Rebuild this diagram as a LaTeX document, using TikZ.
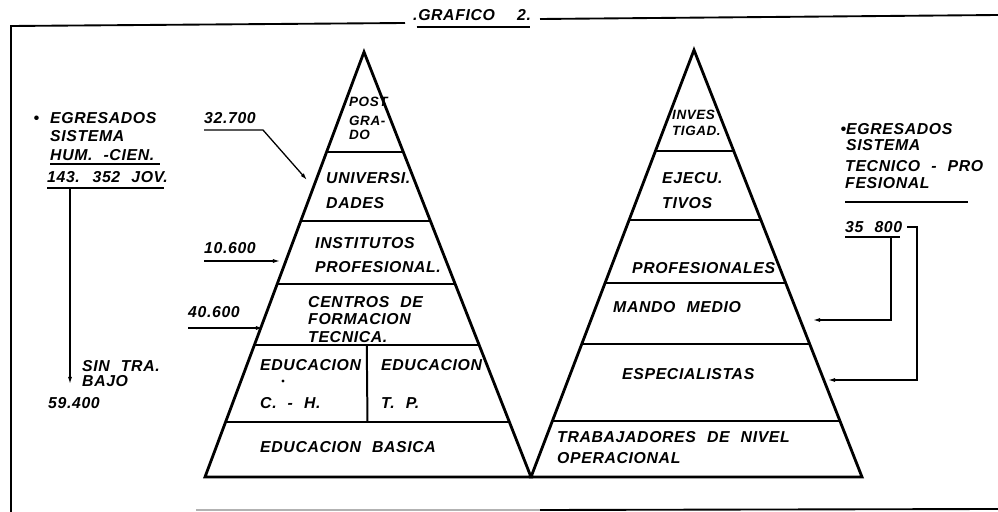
\documentclass[tikz,border=0pt]{standalone}
\usepackage{fontspec}
\setmainfont{Liberation Sans}[LetterSpace=4,WordSpace=2.2]
\usetikzlibrary{calc,arrows.meta}
\tikzset{
	frame/.style={line width=1.6pt},
	pyr/.style={line width=2.4pt},
	tier/.style={line width=1.7pt},
	con/.style={line width=1.1pt},
	ul/.style={line width=1.5pt},
	tip/.style={-{Latex[length=6pt,width=3.5pt]}},
	txt/.style={anchor=west, inner sep=0pt, align=left, font=\fontsize{13.5}{#1}\selectfont\bfseries\itshape},
	txt/.default=15,
	sml/.style={anchor=west, inner sep=0pt, align=left, font=\fontsize{11.5}{#1}\selectfont\bfseries\itshape},
	sml/.default=12
}
\newcommand{\Piramide}[4]{
	\coordinate (#1T) at #2;
	\coordinate (#1L) at #3;
	\coordinate (#1R) at #4;
	\draw[pyr] (#1L) -- (#1T) -- (#1R) -- cycle;
	\foreach \t [count=\i] in {0.236,0.397,0.546,0.689,0.870}{
		\draw[tier] ($(#1T)!\t!(#1L)$) coordinate (#1l\i) -- ($(#1T)!\t!(#1R)$) coordinate (#1r\i);
	}
}

\begin{document}
\begin{tikzpicture}[x=0.03cm,y=-0.03cm]
	\useasboundingbox (0,0) rectangle (998,512);
	\draw[frame] (11,512) -- (11,26) -- (405,23);
	\draw[frame] (540,19) -- (998,15);
	\draw[frame,black!30] (196,510) -- (540,510);
	\draw[frame] (540,510) -- (998,509);
	\node[txt] (titulo) at (413,15) {.GRAFICO\ \ 2.};
	\coordinate (u0) at (530,27);
	\draw[ul] ([xshift=3pt]titulo.west |- u0) -- (u0);

	\Piramide{A}{(364,52)}{(205,477)}{(531,477)}
	\Piramide{B}{(694,50)}{(531,477)}{(862,477)}
	\draw[tier] ($(Al4)!0.5!(Ar4)$) -- ($(Al5)!0.5!(Ar5)$);

	\node[sml=11.5] (post) at (349,118) {POST\\[5pt]GRA-\\DO};
	\node[txt=21.3] (univ) at (326,190.5) {UNIVERSI.\\DADES};
	\node[txt=20.5] (inst) at (315,255) {INSTITUTOS\\PROFESIONAL.};
	\node[txt=15] (cent) at (308,319.5) {CENTROS\ DE\\FORMACION\\TECNICA.};
	\node[txt=32.4] (eduCH) at (260,384) {EDUCACION\\C. - H.};
	\fill (283,381) circle (1.6);
	\node[txt=32.4] (eduTP) at (381,384) {EDUCACION\\T. P.};
	\node[txt] (basica) at (260,447) {EDUCACION BASICA};

	\node[sml=13.7] (inves) at (672,123) {INVES\\TIGAD.};
	\node[txt=21.3] (ejec) at (662,190.5) {EJECU.\\TIVOS};
	\node[txt] (prof) at (632,268) {PROFESIONALES};
	\node[txt] (mando) at (613,307) {MANDO MEDIO};
	\node[txt] (espec) at (622,374) {ESPECIALISTAS};
	\node[txt=18] (trab) at (557,447.5) {TRABAJADORES DE NIVEL\\OPERACIONAL};

	\node[txt=15.5] (lEgr) at (50,136.5) {\llap{\textbullet\ }EGRESADOS\\SISTEMA\\HUM. -CIEN.};
	\node[txt] (lJov) at (47,177) {143. 352 JOV.};
	\coordinate (u1) at (160,164);
	\coordinate (u2) at (164,188);
	\draw[ul] (lEgr.west |- u1) -- (u1);
	\draw[ul] (lJov.west |- u2) -- (u2);
	\coordinate (f594) at (70,384);
	\draw[con,tip] (f594 |- u2) -- (f594);
	\node[txt=13.5] (lSin) at (82,373.5) {SIN TRA.\\BAJO};
	\node[txt] (l594) at (48,403) {59.400};

	\node[txt] (n327) at (204,118) {32.700};
	\coordinate (u327) at (263,130);
	\coordinate (f327) at (307,180);
	\draw[con,tip] (n327.west |- u327) -- (u327) -- (f327);
	\node[txt] (n106) at (204,248) {10.600};
	\coordinate (f106) at (280,261);
	\draw[con,tip] (n106.west |- f106) -- (f106);
	\node[txt] (n406) at (188,312) {40.600};
	\coordinate (f406) at (263,328);
	\draw[con,tip] (n406.west |- f406) -- (f406);

	\node[txt=13.7] (rEgr) at (846,137) {\llap{\textbullet}EGRESADOS\\SISTEMA};
	\node[txt=14.5] (rTec) at (845,174.5) {TECNICO - PRO\\FESIONAL};
	\coordinate (u3) at (968,202);
	\draw[ul] (rTec.west |- u3) -- (u3);
	\node[txt] (n358) at (845,227) {35 800};
	\coordinate (u4) at (900,237);
	\draw[ul] (n358.west |- u4) -- (u4);
	\coordinate (k1) at (891,237);
	\coordinate (k2) at (917,227);
	\coordinate (fMando) at (813,320);
	\coordinate (fEspec) at (828,380);
	\draw[con,tip] (k1) |- (fMando);
	\draw[con,tip] ([xshift=4pt]n358.east) -- (k2) |- (fEspec);
\end{tikzpicture}
\end{document}
